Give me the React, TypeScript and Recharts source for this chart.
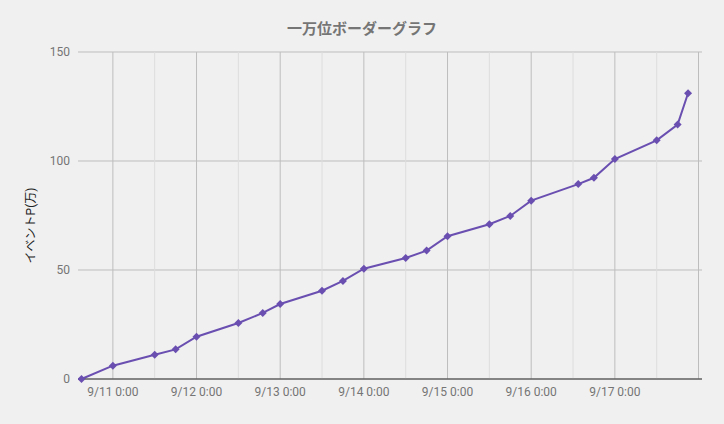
import { LineChart, Line, XAxis, YAxis, CartesianGrid, ReferenceLine } from 'recharts';

// hours since 9/11 0:00
const times = [-9, 0, 12, 18, 24, 36, 43, 48, 60, 66, 72, 84, 90, 96, 108, 114, 120, 133.5, 138, 144, 156, 162, 165];
const points = [0, 6.1, 11.1, 13.6, 19.4, 25.7, 30.3, 34.4, 40.5, 45.0, 50.6, 55.5, 58.9, 65.5, 71.0, 74.8, 81.8, 89.4, 92.3, 100.9, 109.5, 116.7, 131.1];

const dayTicks = [0, 24, 48, 72, 96, 120, 144];
const dayLines = [0, 24, 48, 72, 96, 120, 144, 168];
const halfDayLines = [12, 36, 60, 84, 108, 132, 156];
const yTicks = [0, 50, 100, 150];

const data = times.map((t, i) => ({ t, v: points[i] }));

const TEXT = '#757575';

const formatDay = (h: number) => `9/${11 + Math.round(h / 24)} 0:00`;

// diamond marker around the point recharts gives us
const Diamond = (props: any) => {
  const { cx, cy } = props;
  if (cx == null || cy == null) return null;
  const r = 4;
  return (
    <polygon
      points={`${cx},${cy - r} ${cx + r},${cy} ${cx},${cy + r} ${cx - r},${cy}`}
      fill="#6a4fb1"
    />
  );
};

const App = () => {
  return (
    <div style={{ position: 'absolute', left: 0, top: 0, width: 724, height: 424, background: '#f0f0f0' }}>
      <div
        style={{
          position: 'absolute',
          top: 17,
          width: 724,
          textAlign: 'center',
          fontFamily: "Roboto, 'Noto Sans CJK JP'",
          fontSize: 15,
          fontWeight: 'bold',
          color: TEXT,
        }}
      >
        一万位ボーダーグラフ
      </div>
      <LineChart width={724} height={424} data={data} margin={{ top: 52, right: 22, bottom: 0, left: 0 }}>
        <CartesianGrid stroke="#bdbdbd" vertical={false} horizontal={true} />
        {halfDayLines.map((h) => (
          <ReferenceLine key={`m${h}`} x={h} stroke="#dddddd" />
        ))}
        {dayLines.map((h) => (
          <ReferenceLine key={`d${h}`} x={h} stroke="#bdbdbd" />
        ))}
        <XAxis
          dataKey="t"
          type="number"
          domain={[-10, 169]}
          ticks={dayTicks}
          tickFormatter={formatDay}
          height={45}
          tickLine={false}
          tickSize={0}
          tickMargin={8}
          axisLine={{ stroke: '#333333', strokeWidth: 1 }}
          tick={{ fill: TEXT, fontSize: 12, fontFamily: 'Roboto' }}
          interval={0}
          allowDataOverflow
        />
        <YAxis
          type="number"
          domain={[0, 150]}
          ticks={yTicks}
          width={78}
          tickLine={false}
          axisLine={false}
          tickSize={0}
          tickMargin={8}
          tick={{ fill: TEXT, fontSize: 12, fontFamily: 'Roboto' }}
          label={{
            value: 'イベントP(万)',
            angle: -90,
            position: 'insideLeft',
            offset: 31,
            dy: 10,
            style: { fill: '#222222', fontSize: 12, fontFamily: "Roboto, 'Noto Sans CJK JP'", textAnchor: 'middle' },
          }}
        />
        <Line
          dataKey="v"
          stroke="#6a4fb1"
          strokeWidth={2}
          dot={<Diamond />}
          activeDot={false}
          isAnimationActive={false}
        />
      </LineChart>
    </div>
  );
};

export default App;
